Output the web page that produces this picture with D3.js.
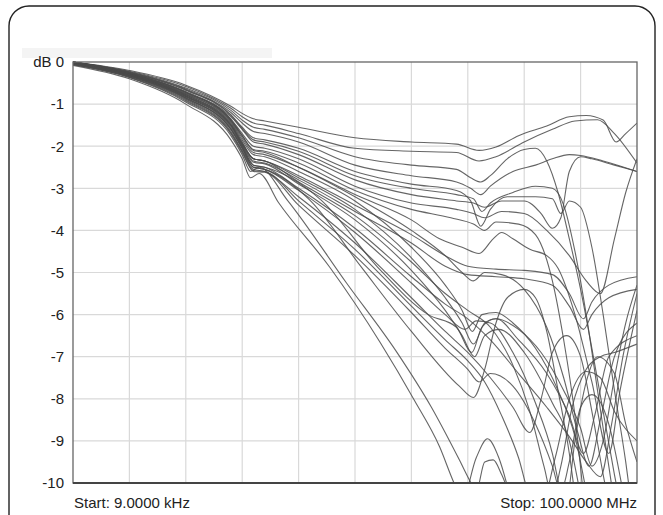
<!DOCTYPE html>
<html><head><meta charset="utf-8">
<script src="https://cdn.jsdelivr.net/npm/d3@7"></script>
<style>html,body{margin:0;padding:0;background:#fff;}svg{display:block;font-family:"Liberation Sans",Arial,sans-serif;}</style>
</head><body>
<svg id="c" width="663" height="515"></svg>
<script>
// Frequency span (MHz) and level range (dB)
const startMHz = 0.009, stopMHz = 100;
const yTicks = [0,-1,-2,-3,-4,-5,-6,-7,-8,-9,-10];
const startLabel = "Start: 9.0000 kHz";
const stopLabel = "Stop: 100.0000 MHz";

// Traces: [MHz, dB]
const c1 = [[0,0],[10,-0.2],[20,-0.55],[28,-1.05],[30,-1.22],[32,-1.35],[34,-1.4],[40,-1.55],[50,-1.8],[60,-1.9],[68,-1.95],[72,-2.1],[75,-2.02],[79,-1.75],[84,-1.52],[88,-1.3],[91,-1.27],[94,-1.38],[96.3,-1.9],[98,-1.7],[100,-1.45]];
const c2 = [[0,0],[10,-0.22],[20,-0.58],[28,-1.1],[30,-1.3],[32,-1.45],[34,-1.5],[40,-1.7],[50,-2.05],[60,-2.12],[68,-2.15],[72,-2.35],[75,-2.25],[80,-1.9],[85,-1.6],[89,-1.4],[93,-1.37],[96,-1.7],[100,-2.4]];
const c3 = [[0,0],[10,-0.23],[20,-0.62],[28,-1.15],[30,-1.38],[32,-1.55],[34,-1.6],[40,-1.8],[50,-2.25],[60,-2.45],[68,-2.55],[70.5,-2.75],[72.3,-2.85],[74,-2.7],[77,-2.3],[80,-2.08],[82,-2.05],[84,-2.35],[86,-3.1],[88,-4.2],[90,-5.4],[92,-6.8],[94,-8.3],[96,-9.8],[97,-10.5]];
const c4 = [[0,0],[10,-0.24],[20,-0.64],[28,-1.2],[30,-1.45],[32,-1.65],[34,-1.7],[40,-1.9],[50,-2.45],[60,-2.7],[68,-2.85],[70.5,-3.0],[72.3,-3.15],[74,-2.95],[78,-2.6],[82,-2.45],[85,-2.3],[88,-2.2],[90,-2.22],[94,-2.35],[100,-2.6]];
const c5 = [[0,0],[10,-0.25],[20,-0.66],[28,-1.25],[30,-1.55],[32,-1.8],[34,-1.85],[40,-2.05],[50,-2.6],[60,-2.9],[68,-3.05],[70.5,-3.3],[72.3,-3.9],[74,-3.5],[77,-3.2],[82,-3.2],[85,-3.25],[86.5,-3.6],[88,-3.3],[90,-3.45],[92,-4.4],[94,-6.0],[96,-7.8],[98,-9.5],[99,-10.5]];
const c6 = [[0,0],[10,-0.26],[20,-0.7],[28,-1.3],[30,-1.6],[32,-1.9],[34,-1.95],[40,-2.2],[50,-2.8],[60,-3.15],[68,-3.3],[71,-3.35],[73,-3.45],[76,-3.3],[80,-3.3],[83,-3.6],[85,-3.95],[86.5,-3.7],[88,-2.6],[90,-2.25],[92,-2.3],[96,-2.45],[100,-2.6]];
const c7 = [[0,0],[10,-0.27],[20,-0.72],[28,-1.35],[30,-1.7],[32,-2.0],[34,-2.05],[40,-2.3],[50,-2.95],[60,-3.35],[68,-3.5],[71,-3.6],[73,-3.7],[76,-3.55],[80,-3.6],[84,-4.0],[88,-4.6],[91,-5.2],[93.5,-5.5],[96,-4.2],[98,-3.1],[100,-2.3]];
const c8 = [[0,0],[10,-0.28],[20,-0.75],[28,-1.4],[30,-1.8],[32,-2.15],[34,-2.2],[40,-2.5],[50,-3.15],[60,-3.75],[65,-4.2],[69,-4.4],[72,-4.55],[74.5,-4.2],[76,-4.05],[78,-4.2],[81,-4.45],[84,-4.6],[86,-4.9],[89,-6.0],[92,-7.6],[95,-9.3],[97,-7.8],[100,-5.9]];
const c9 = [[0,0],[10,-0.3],[20,-0.78],[28,-1.45],[30,-1.9],[32,-2.3],[34,-2.35],[40,-2.7],[50,-3.4],[60,-4.1],[66,-4.6],[70,-4.85],[75,-4.92],[80,-4.95],[85,-5.05],[88,-5.5],[90.5,-6.1],[92,-5.7],[95,-5.3],[100,-5.1]];
const c10 = [[0,0],[10,-0.3],[20,-0.8],[28,-1.5],[30,-1.95],[32,-2.35],[34,-2.4],[40,-2.8],[50,-3.55],[60,-4.3],[66,-4.85],[70,-5.05],[75,-5.1],[80,-5.15],[85,-5.3],[88,-5.8],[90.5,-6.35],[92,-6.0],[95,-5.6],[100,-5.4]];
const c11 = [[0,-0.02],[10,-0.28],[20,-0.76],[28,-1.42],[30,-1.85],[32,-2.2],[34,-2.25],[40,-2.6],[50,-3.3],[60,-4.4],[66,-5.3],[69,-5.9],[70.8,-6.4],[72.5,-6.0],[75,-5.95],[78,-6.2],[82,-6.8],[86,-7.8],[89,-8.9],[91,-10.2]];
const c12 = [[0,-0.03],[10,-0.29],[20,-0.78],[28,-1.48],[30,-1.92],[32,-2.3],[34,-2.35],[40,-2.75],[50,-3.5],[60,-4.65],[66,-5.6],[69,-6.2],[71,-6.7],[73,-6.2],[75,-6.1],[79,-6.6],[84,-7.4],[88,-8.4],[90.5,-9.3],[92.5,-8.4],[95,-7.0],[100,-6.5]];
const c13 = [[0,-0.04],[10,-0.31],[20,-0.82],[28,-1.52],[30,-1.98],[32,-2.38],[34,-2.42],[40,-2.9],[50,-3.75],[60,-4.95],[66,-5.9],[69,-6.5],[71.2,-7.0],[73,-6.5],[75.5,-6.35],[80,-6.9],[85,-8.1],[88,-9.0],[90,-10.3]];
const c14 = [[0,-0.02],[10,-0.27],[20,-0.72],[28,-1.38],[30,-1.75],[32,-2.1],[34,-2.15],[40,-2.5],[50,-3.2],[60,-4.0],[66,-4.6],[69,-5.0],[71,-5.2],[73,-5.0],[76,-5.05],[80,-5.4],[84,-6.3],[87,-7.5],[89.5,-8.8],[91.5,-9.6],[93.5,-8.5],[96,-7.0],[100,-6.2]];
const c15 = [[0,-0.05],[10,-0.32],[20,-0.85],[28,-1.6],[30,-2.05],[32,-2.5],[34,-2.55],[42,-3.28],[51,-4.85],[60,-6.4],[68.5,-7.7],[71,-7.97],[73,-7.3],[75,-6.2],[77,-5.6],[80,-5.4],[82,-5.6],[84,-6.4],[86,-7.8],[88,-9.3],[89,-10.3]];
const c16 = [[0,-0.03],[10,-0.3],[20,-0.82],[28,-1.55],[30,-2.0],[32,-2.45],[34,-2.5],[44,-3.28],[54,-4.87],[63,-6.0],[68,-6.3],[70.7,-6.9],[72.5,-6.3],[75,-6.1],[79,-6.35],[83,-6.9],[87,-7.8],[90,-8.7],[92,-9.6],[94,-9.0],[96,-7.5],[98,-6.2],[100,-5.3]];
const c17 = [[0,-0.08],[10,-0.4],[20,-1.0],[28,-1.85],[30,-2.3],[31.5,-2.75],[33,-2.65],[36.5,-3.35],[45.5,-4.87],[54.5,-6.67],[60.5,-8.03],[65,-9.14],[67.5,-9.98],[69,-10.4],[71.5,-9.4],[73.5,-8.95],[75.5,-9.4],[78,-10.6]];
const c18 = [[0,-0.06],[10,-0.37],[20,-0.95],[28,-1.75],[30,-2.2],[31.5,-2.6],[33,-2.5],[38,-3.28],[48.5,-5.25],[57.5,-6.91],[63.5,-8.19],[68.5,-9.45],[70.5,-9.98],[71.5,-10.2],[73,-9.5],[74.5,-9.45],[76,-9.8],[78,-10.5]];
const c19 = [[0,-0.05],[10,-0.34],[20,-0.88],[28,-1.65],[30,-2.1],[32,-2.55],[34,-2.6],[40,-3.2],[50,-4.3],[60,-5.6],[66,-6.4],[70,-6.9],[74,-7.5],[78,-8.2],[81,-8.8],[83,-8.0],[85,-6.9],[87.5,-6.5],[90,-7.0],[92,-8.3],[94,-9.8],[95,-10.5]];
const c20 = [[0,-0.04],[10,-0.33],[20,-0.86],[28,-1.6],[30,-2.05],[32,-2.5],[34,-2.55],[40,-3.05],[50,-4.05],[60,-5.25],[66,-6.0],[69.5,-6.35],[71.5,-6.15],[74,-6.2],[78,-6.9],[82,-8.1],[85,-9.3],[86.5,-10.2],[87.5,-10.4],[89,-9.0],[91,-7.6],[93,-7.0],[96,-7.4],[98,-8.6],[100,-9.5]];
const c21 = [[0,-0.06],[10,-0.36],[20,-0.92],[28,-1.7],[30,-2.15],[32,-2.6],[34,-2.62],[40,-3.4],[50,-4.6],[60,-5.95],[66,-6.8],[70,-7.3],[72,-7.6],[74,-7.4],[78,-7.7],[82,-8.6],[85,-9.6],[86.5,-10.2],[88,-9.5],[90,-8.2],[92,-7.9],[95,-8.6],[97.5,-10.2]];
const c22 = [[0,0],[10,-0.27],[20,-0.73],[28,-1.37],[30,-1.75],[32,-2.08],[34,-2.12],[40,-2.4],[50,-3.05],[60,-3.5],[67,-3.7],[71,-3.85],[73,-4.0],[75,-3.8],[79,-3.85],[82,-4.1],[85,-5.2],[87,-6.6],[89,-8.4],[90.5,-10.3]];
const c23 = [[0,-0.03],[10,-0.3],[20,-0.8],[28,-1.5],[30,-1.95],[32,-2.3],[34,-2.35],[40,-2.85],[50,-3.65],[60,-4.75],[66,-5.5],[70,-5.9],[74,-6.3],[78,-7.2],[81,-8.3],[83.5,-9.6],[85,-10.3],[86.5,-9.6],[88.5,-8.2],[91,-7.3],[93.5,-7.0],[96,-6.9],[100,-6.7]];
const c24 = [[0,-0.04],[10,-0.32],[20,-0.84],[28,-1.58],[30,-2.02],[32,-2.45],[34,-2.5],[40,-3.0],[50,-3.95],[60,-5.1],[66,-5.75],[70,-6.1],[74,-6.6],[79,-7.4],[84,-8.2],[88,-8.9],[91,-9.5],[93.5,-9.85],[95.5,-8.6],[97.5,-7.0],[100,-5.5]];
const c25 = [[0,-0.05],[10,-0.35],[20,-0.9],[28,-1.68],[30,-2.12],[32,-2.58],[34,-2.6],[40,-3.3],[50,-4.45],[60,-5.8],[66,-6.6],[70,-7.1],[73,-7.6],[76,-8.4],[79,-9.4],[81,-10.3],[83,-10.5],[85.5,-9.4],[88,-8.0],[91,-7.35],[93.5,-7.5],[96,-8.3],[100,-9.0]];
const c26 = [[0,0],[10,-0.25],[20,-0.67],[28,-1.27],[30,-1.58],[32,-1.85],[34,-1.9],[40,-2.12],[50,-2.7],[60,-3.0],[68,-3.15],[71,-3.25],[72.5,-3.55],[74,-3.35],[78,-3.1],[82,-2.95],[85,-3.0],[87,-3.4],[89,-4.5],[91,-6.0],[93,-7.8],[95,-9.6],[96,-10.5]];
const traces = [c1,c2,c3,c4,c5,c6,c7,c8,c9,c10,c11,c12,c13,c14,c15,c16,c17,c18,c19,c20,c21,c22,c23,c24,c25,c26];

const svg = d3.select("#c");
const L = 73, R = 637, T = 62, B = 483;
const x = d3.scaleLinear().domain([startMHz, stopMHz]).range([L, R]);
const y = d3.scaleLinear().domain([-10, 0]).range([B, T]);

// outer rounded frame
svg.append("rect").attr("x", 9).attr("y", 6).attr("width", 646).attr("height", 540)
  .attr("rx", 20).attr("fill", "none").attr("stroke", "#222").attr("stroke-width", 1.4);
// faint band
svg.append("rect").attr("x", 22).attr("y", 48).attr("width", 250).attr("height", 10).attr("fill", "#f4f4f4");

// grid
const xGrid = d3.range(1, 10).map(i => startMHz + i * (stopMHz - startMHz) / 10);
const g = svg.append("g");
g.selectAll("line.v").data(xGrid).join("line")
  .attr("x1", d => x(d)).attr("x2", d => x(d)).attr("y1", T).attr("y2", B)
  .attr("stroke", "#d9d9d9").attr("stroke-width", 1.2);
g.selectAll("line.h").data(yTicks.slice(1, -1)).join("line")
  .attr("x1", L).attr("x2", R).attr("y1", d => y(d)).attr("y2", d => y(d))
  .attr("stroke", "#d9d9d9").attr("stroke-width", 1.2);

// traces
svg.append("clipPath").attr("id", "clip").append("rect")
  .attr("x", L).attr("y", T - 2).attr("width", R - L).attr("height", B - T + 2);
const line = d3.line().x(d => x(d[0])).y(d => y(d[1])).curve(d3.curveMonotoneX);
svg.append("g").attr("clip-path", "url(#clip)").selectAll("path").data(traces).join("path")
  .attr("d", line).attr("fill", "none").attr("stroke", "#4a4a4a").attr("stroke-width", 1.1)
  .attr("stroke-opacity", 0.85);

// plot frame
svg.append("rect").attr("x", L).attr("y", T).attr("width", R - L).attr("height", B - T)
  .attr("fill", "none").attr("stroke", "#666").attr("stroke-width", 1.3);
svg.append("line").attr("x1", L).attr("x2", R).attr("y1", B).attr("y2", B).attr("stroke", "#444").attr("stroke-width", 2);

// y axis labels
const ya = d3.axisLeft(y).tickValues(yTicks).tickSize(0).tickPadding(9)
  .tickFormat(d => d === 0 ? "dB 0" : String(d));
const yg = svg.append("g").attr("transform", `translate(${L},0)`).call(ya);
yg.select(".domain").remove();
yg.selectAll("text").attr("font-size", 15).attr("fill", "#222").attr("font-family", "Liberation Sans, Arial, sans-serif");

svg.append("text").attr("x", L + 1).attr("y", 508).attr("font-size", 15).attr("fill", "#222").text(startLabel);
svg.append("text").attr("x", R).attr("y", 508).attr("text-anchor", "end").attr("font-size", 15).attr("fill", "#222").text(stopLabel);
</script>
</body></html>
